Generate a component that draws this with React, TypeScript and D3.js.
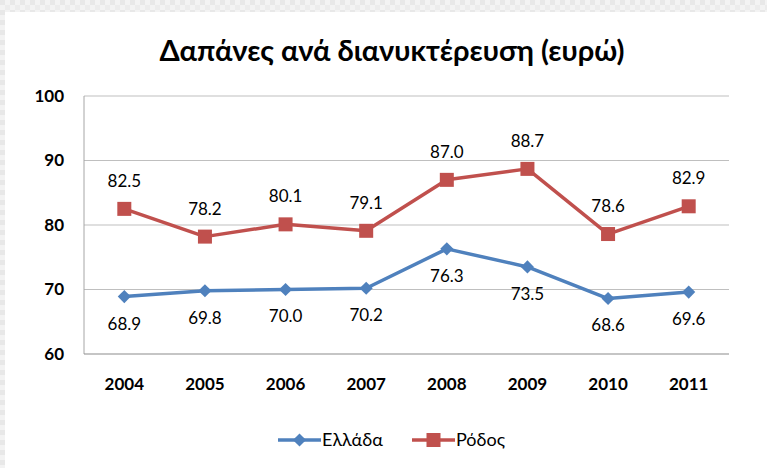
import React from "react";
import * as d3 from "d3";

const years = ["2004", "2005", "2006", "2007", "2008", "2009", "2010", "2011"];
const ellada = [68.9, 69.8, 70.0, 70.2, 76.3, 73.5, 68.6, 69.6];
const rodos = [82.5, 78.2, 80.1, 79.1, 87.0, 88.7, 78.6, 82.9];
const yTicks = [60, 70, 80, 90, 100];
const seriesNames = ["Ελλάδα", "Ρόδος"];
const title = "Δαπάνες ανά διανυκτέρευση (ευρώ)";

const W = 767;
const H = 468;
const margin = { left: 84, right: 38, top: 96, bottom: 114 };
const BLUE = "#4F81BD";
const RED = "#C0504D";
const FONT = "Lato, 'Open Sans', sans-serif";

export default function App() {
  const x = d3.scaleBand<string>().domain(years).range([margin.left, W - margin.right]);
  const y = d3.scaleLinear().domain([60, 100]).range([H - margin.bottom, margin.top]);
  const cx = (d: string) => (x(d) as number) + x.bandwidth() / 2;
  const line = d3.line<number>().x((_, i) => cx(years[i])).y((v) => y(v));
  const diamond = d3.symbol().type(d3.symbolDiamond2).size(110)() as string;

  return (
    <div style={{ position: "fixed", left: 0, top: 0 }}>
      <svg width={W} height={H} style={{ display: "block" }}>
        <defs>
          <pattern id="bg" width="10" height="10" patternUnits="userSpaceOnUse">
            <rect width="10" height="10" fill="#f3f3f3" />
            <rect width="5" height="5" fill="#e8e8e8" />
            <rect x="5" y="5" width="5" height="5" fill="#ececec" />
          </pattern>
        </defs>
        <rect width={W} height={H} fill="url(#bg)" />
        <rect x={5} y={12} width={W - 5} height={H - 12} fill="#fff" />
        <text x={392} y={61} textAnchor="middle" fontFamily={FONT} fontWeight="bold" fontSize={29} fill="#000">
          {title}
        </text>
        {yTicks.map((t) => (
          <g key={t}>
            {t !== 60 && (
              <line x1={margin.left} x2={W - margin.right} y1={y(t)} y2={y(t)} stroke="#bfbfbf" strokeWidth={1} />
            )}
            <text x={margin.left - 20} y={y(t)} dy="0.35em" textAnchor="end" fontFamily={FONT} fontWeight="bold" fontSize={17} fill="#000">
              {t}
            </text>
          </g>
        ))}
        <line x1={margin.left} x2={margin.left} y1={margin.top} y2={y(60)} stroke="#a6a6a6" strokeWidth={1} />
        <line x1={margin.left} x2={W - margin.right} y1={y(60)} y2={y(60)} stroke="#8c8c8c" strokeWidth={1.2} />
        {years.map((yr) => (
          <text key={yr} x={cx(yr)} y={y(60) + 36} textAnchor="middle" fontFamily={FONT} fontWeight="bold" fontSize={17} fill="#000">
            {yr}
          </text>
        ))}
        <path d={line(ellada) as string} fill="none" stroke={BLUE} strokeWidth={3.5} strokeLinejoin="round" />
        <path d={line(rodos) as string} fill="none" stroke={RED} strokeWidth={3.5} strokeLinejoin="round" />
        {ellada.map((v, i) => (
          <g key={"e" + i}>
            <path d={diamond} transform={`translate(${cx(years[i])},${y(v)})`} fill={BLUE} />
            <text x={cx(years[i])} y={y(v) + 27} dy="0.35em" textAnchor="middle" fontFamily={FONT} fontSize={17} fill="#000">
              {v.toFixed(1)}
            </text>
          </g>
        ))}
        {rodos.map((v, i) => (
          <g key={"r" + i}>
            <rect x={cx(years[i]) - 7} y={y(v) - 7} width={14} height={14} fill={RED} />
            <text x={cx(years[i])} y={y(v) - 28} dy="0.35em" textAnchor="middle" fontFamily={FONT} fontSize={17} fill="#000">
              {v.toFixed(1)}
            </text>
          </g>
        ))}
        <g>
          <line x1={278} x2={321} y1={440} y2={440} stroke={BLUE} strokeWidth={3.5} />
          <path d={diamond} transform="translate(299.5,440)" fill={BLUE} />
          <text x={322} y={440} dy="0.35em" fontFamily={FONT} fontSize={18} fill="#000">{seriesNames[0]}</text>
          <line x1={412} x2={455} y1={440} y2={440} stroke={RED} strokeWidth={3.5} />
          <rect x={426.5} y={433} width={14} height={14} fill={RED} />
          <text x={456} y={440} dy="0.35em" fontFamily={FONT} fontSize={18} fill="#000">{seriesNames[1]}</text>
        </g>
      </svg>
    </div>
  );
}
